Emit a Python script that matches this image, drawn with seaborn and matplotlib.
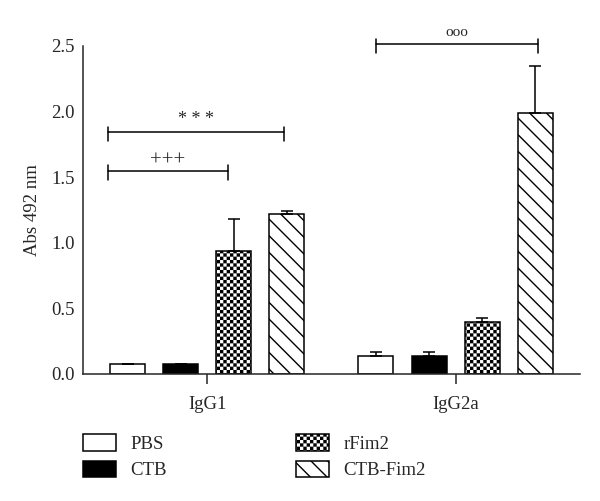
import numpy as np
import pandas as pd
import matplotlib
matplotlib.use("Agg")
import matplotlib.pyplot as plt
import matplotlib.patches as mpatches
from matplotlib import hatch as mhatch
from matplotlib.path import Path
import seaborn as sns
import warnings

warnings.filterwarnings("ignore")

# Data
isotypes = ["IgG1", "IgG2a"]
groups = ["PBS", "CTB", "rFim2", "CTB-Fim2"]
pbs = [0.08, 0.14]
ctb = [0.08, 0.14]
rfim2 = [0.94, 0.40]
ctb_fim2 = [1.22, 1.99]
pbs_err = [0.0, 0.03]
ctb_err = [0.0, 0.03]
rfim2_err = [0.24, 0.03]
ctb_fim2_err = [0.02, 0.36]


# checkerboard hatch ('c'), not built into matplotlib
class CheckerHatch(mhatch.HatchPatternBase):
    filled = True

    def __init__(self, hatch, density):
        self.n = hatch.count("c") * density
        self.cells = [(i, j) for i in range(self.n) for j in range(self.n) if (i + j) % 2 == 0]
        self.num_vertices = 5 * len(self.cells) if self.n else 0

    def set_vertices_and_codes(self, vertices, codes):
        s = 1.0 / self.n
        m = s * 0.2
        k = 0
        for i, j in self.cells:
            x0, y0 = i * s + m, j * s + m
            x1, y1 = (i + 1) * s - m, (j + 1) * s - m
            vertices[k:k + 5] = [[x0, y0], [x1, y0], [x1, y1], [x0, y1], [x0, y0]]
            codes[k:k + 5] = [Path.MOVETO, Path.LINETO, Path.LINETO, Path.LINETO, Path.CLOSEPOLY]
            k += 5


mhatch._hatch_types.append(CheckerHatch)

sns.set_style("ticks")
plt.rcParams["font.family"] = ["Liberation Serif", "DejaVu Serif"]
plt.rcParams["hatch.linewidth"] = 1.0
plt.rcParams["hatch.color"] = "black"

df = pd.DataFrame({
    "isotype": isotypes * 4,
    "group": np.repeat(groups, 2),
    "abs": pbs + ctb + rfim2 + ctb_fim2,
})
errs = [pbs_err, ctb_err, rfim2_err, ctb_fim2_err]
colors = ["white", "black", "white", "white"]
hatches = ["", "", "ccccc", "\\\\"]
FS = 13.5

fig = plt.figure(figsize=(6, 5.01), dpi=100)
ax = fig.add_axes([0.1383, 0.2535, 0.828, 0.6547])

sns.barplot(data=df, x="isotype", y="abs", hue="group", hue_order=groups,
            palette=colors, edgecolor="black", linewidth=1.1,
            width=0.855, gap=0.34, errorbar=None, legend=False, ax=ax)

for cont, h, e in zip(ax.containers, hatches, errs):
    xs, ys = [], []
    for bar in cont:
        bar.set_hatch(h)
        xs.append(bar.get_x() + bar.get_width() / 2)
        ys.append(bar.get_height())
    ax.errorbar(xs, ys, yerr=[np.zeros(len(e)), e], fmt="none", ecolor="black",
                elinewidth=1.1, capsize=4, capthick=1.1, zorder=1)

ax.set_xlim(-0.5, 1.5)
ax.set_ylim(0, 2.5)
ax.set_yticks([0, 0.5, 1.0, 1.5, 2.0, 2.5])
ax.set_yticklabels(["0.0", "0.5", "1.0", "1.5", "2.0", "2.5"])
ax.tick_params(axis="y", length=0, pad=6, labelsize=FS)
ax.tick_params(axis="x", length=7, width=1.1, pad=9, labelsize=FS)
ax.set_xlabel("")
ax.set_ylabel("Abs 492 nm", fontsize=FS, labelpad=7)
for sp in ["left", "bottom"]:
    ax.spines[sp].set_linewidth(1.1)
sns.despine(ax=ax)


def bracket(x1, x2, y, label, fs, dy):
    ax.plot([x1, x2], [y, y], color="black", lw=1.1, clip_on=False)
    for x in (x1, x2):
        ax.plot([x, x], [y - 0.07, y + 0.04], color="black", lw=1.1, clip_on=False)
    ax.text((x1 + x2) / 2, y + dy, label, ha="center", va="bottom",
            fontsize=fs, clip_on=False)


bracket(-0.40, 0.31, 1.845, "* * *", 13, 0.03)
bracket(-0.40, 0.085, 1.55, "+++", 15, 0.0)
bracket(0.68, 1.33, 2.515, "ooo", 11, 0.04)

handles = [mpatches.Patch(facecolor=c, edgecolor="black", hatch=h, linewidth=1.1, label=g)
           for c, h, g in zip(colors, hatches, groups)]
fig.legend(handles=handles, loc="upper left", bbox_to_anchor=(0.123, 0.152),
           ncol=2, frameon=False, fontsize=FS, borderpad=0,
           handlelength=1.76, handleheight=1.0, handletextpad=0.75,
           columnspacing=6.9, labelspacing=0.4)

fig.savefig("out.png", dpi=100)
